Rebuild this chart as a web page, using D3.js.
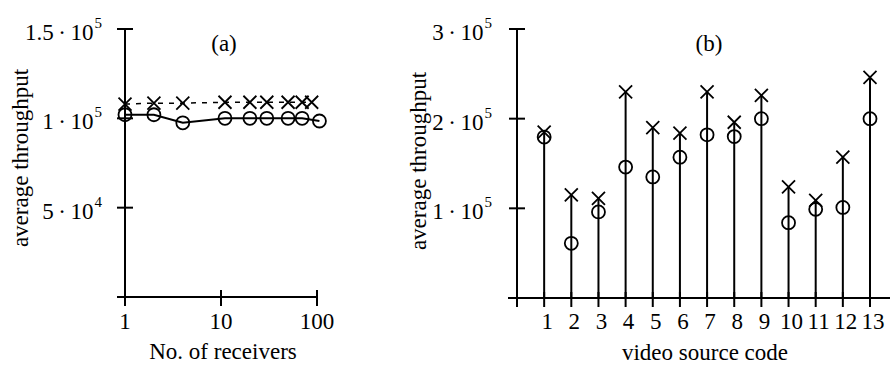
<!DOCTYPE html>
<html>
<head>
<meta charset="utf-8">
<script src="https://cdn.jsdelivr.net/npm/d3@7"></script>
<style>
  body { margin: 0; background: #fff; }
  text { font-family: "Liberation Serif", "Times New Roman", serif; fill: #000; }
</style>
</head>
<body>
<div id="Vis"></div>
<script>
// ---- data (a): throughput vs number of receivers
var receiversO = [1, 2, 4, 11, 20, 30, 50, 70, 106];
var throughputO = [102000, 102000, 97500, 100000, 100000, 100000, 100000, 100000, 98500];
var receiversX = [1, 2, 4, 11, 20, 30, 50, 70, 88];
var throughputX = [108000, 108500, 108500, 109000, 109000, 109000, 109000, 109000, 109000];
var ticksYA = [50000, 100000, 150000];
var ticksXA = [1, 10, 100];

// ---- data (b): throughput per video source
var sources = [1, 2, 3, 4, 5, 6, 7, 8, 9, 10, 11, 12, 13];
var sourceX = [185000, 115000, 111000, 230000, 190000, 184000, 230000, 196000, 226000, 124000, 109000, 157000, 246000];
var sourceO = [179500, 61000, 96000, 146000, 135000, 157000, 182000, 180000, 200000, 84000, 99000, 101000, 200000];
var ticksYB = [100000, 200000, 300000];

var width = 890, height = 366;

var svg = d3.select("#Vis")
  .append("svg")
    .attr("width", width)
    .attr("height", height);

// scales
var xA = d3.scaleLog().domain([1, 100]).range([125, 317]);
var yA = d3.scaleLinear().domain([0, 150000]).range([297, 29]);
var xB = d3.scaleLinear().domain([0, 13]).range([517, 870]);
var yB = d3.scaleLinear().domain([0, 300000]).range([298, 29]);

// "1.5·10^5" style label
function sciLabel(sel) {
  sel.each(function(v) {
    var e = Math.floor(Math.log10(v));
    var m = +(v / Math.pow(10, e)).toFixed(2);
    var t = d3.select(this);
    t.append("tspan").text(m + "\u2009\u00b7\u200910");
    t.append("tspan").attr("dx", 1).attr("dy", -12).attr("font-size", "15px").text(e);
  });
}

// marker helpers
function drawCircles(g, data, x, y) {
  g.selectAll(null).data(data).enter().append("circle")
    .attr("cx", function(d) { return x(d[0]); })
    .attr("cy", function(d) { return y(d[1]); })
    .attr("r", 6.5)
    .attr("fill", "none")
    .attr("stroke", "#000")
    .attr("stroke-width", 1.8);
}
function drawCrosses(g, data, x, y) {
  var s = 6.5;
  g.selectAll(null).data(data).enter().append("path")
    .attr("d", function(d) {
      var cx = x(d[0]), cy = y(d[1]);
      return "M" + (cx - s) + "," + (cy - s) + "L" + (cx + s) + "," + (cy + s) +
             "M" + (cx - s) + "," + (cy + s) + "L" + (cx + s) + "," + (cy - s);
    })
    .attr("stroke", "#000")
    .attr("stroke-width", 1.8)
    .attr("fill", "none");
}

// ================= panel (a)
var gA = svg.append("g");

// axis lines
gA.append("line")
  .attr("x1", xA(1)).attr("x2", xA(1))
  .attr("y1", yA(0) + 8).attr("y2", yA(150000))
  .attr("stroke", "#000").attr("stroke-width", 2);
gA.append("line")
  .attr("x1", xA(1) - 8).attr("x2", xA(100))
  .attr("y1", yA(0)).attr("y2", yA(0))
  .attr("stroke", "#000").attr("stroke-width", 2);

// y ticks
gA.selectAll(".ytick").data(ticksYA).enter().append("line")
  .attr("x1", xA(1) - 8).attr("x2", xA(1) + 8)
  .attr("y1", function(d) { return yA(d); })
  .attr("y2", function(d) { return yA(d); })
  .attr("stroke", "#000").attr("stroke-width", 2);
gA.selectAll(".ylab").data(ticksYA).enter().append("text")
  .attr("x", xA(1) - 23)
  .attr("y", function(d) { return yA(d) + 11; })
  .attr("text-anchor", "end")
  .attr("font-size", "23px")
  .call(sciLabel);

// x ticks
gA.selectAll(".xtick").data(ticksXA).enter().append("line")
  .attr("x1", function(d) { return xA(d); })
  .attr("x2", function(d) { return xA(d); })
  .attr("y1", yA(0) - 7).attr("y2", yA(0) + 9)
  .attr("stroke", "#000").attr("stroke-width", 2);
gA.selectAll(".xlab").data(ticksXA).enter().append("text")
  .attr("x", function(d) { return xA(d); })
  .attr("y", 329)
  .attr("text-anchor", "middle")
  .attr("font-size", "23px")
  .text(function(d) { return d; });

// lines
var ptsO = receiversO.map(function(r, i) { return [r, throughputO[i]]; });
var ptsX = receiversX.map(function(r, i) { return [r, throughputX[i]]; });
var lineA = d3.line()
  .x(function(d) { return xA(d[0]); })
  .y(function(d) { return yA(d[1]); });
gA.append("path").datum(ptsO)
  .attr("d", lineA).attr("fill", "none")
  .attr("stroke", "#000").attr("stroke-width", 2);
gA.append("path").datum(ptsX)
  .attr("d", lineA).attr("fill", "none")
  .attr("stroke", "#000").attr("stroke-width", 1.5)
  .attr("stroke-dasharray", "5,6");
drawCircles(gA, ptsO, xA, yA);
drawCrosses(gA, ptsX, xA, yA);

// labels
gA.append("text")
  .attr("x", 224).attr("y", 51)
  .attr("text-anchor", "middle").attr("font-size", "23px")
  .text("(a)");
gA.append("text")
  .attr("x", 223).attr("y", 359)
  .attr("text-anchor", "middle").attr("font-size", "23px")
  .text("No. of receivers");
gA.append("text")
  .attr("transform", "translate(28,158) rotate(-90)")
  .attr("text-anchor", "middle").attr("font-size", "23px")
  .text("average throughput");

// ================= panel (b)
var gB = svg.append("g");

gB.append("line")
  .attr("x1", xB(0)).attr("x2", xB(0))
  .attr("y1", yB(0) + 9).attr("y2", yB(300000))
  .attr("stroke", "#000").attr("stroke-width", 2);
gB.append("line")
  .attr("x1", xB(0) - 9).attr("x2", 890)
  .attr("y1", yB(0)).attr("y2", yB(0))
  .attr("stroke", "#000").attr("stroke-width", 2);

gB.selectAll(".ytick").data(ticksYB).enter().append("line")
  .attr("x1", xB(0) - 8).attr("x2", xB(0) + 8)
  .attr("y1", function(d) { return yB(d); })
  .attr("y2", function(d) { return yB(d); })
  .attr("stroke", "#000").attr("stroke-width", 2);
gB.selectAll(".ylab").data(ticksYB).enter().append("text")
  .attr("x", xB(0) - 25)
  .attr("y", function(d) { return yB(d) + 11; })
  .attr("text-anchor", "end")
  .attr("font-size", "23px")
  .call(sciLabel);

gB.selectAll(".xtick").data(sources).enter().append("line")
  .attr("x1", function(d) { return xB(d); })
  .attr("x2", function(d) { return xB(d); })
  .attr("y1", yB(0) - 6).attr("y2", yB(0) + 9)
  .attr("stroke", "#000").attr("stroke-width", 2);
gB.selectAll(".xlab").data(sources).enter().append("text")
  .attr("x", function(d) { return xB(d) + 3; })
  .attr("y", 329)
  .attr("text-anchor", "middle")
  .attr("font-size", "23px")
  .text(function(d) { return d; });

// stems up to the higher marker
gB.selectAll(".stem").data(sources).enter().append("line")
  .attr("x1", function(d) { return xB(d); })
  .attr("x2", function(d) { return xB(d); })
  .attr("y1", yB(0))
  .attr("y2", function(d, i) { return yB(Math.max(sourceX[i], sourceO[i])); })
  .attr("stroke", "#000").attr("stroke-width", 2);

drawCircles(gB, sources.map(function(s, i) { return [s, sourceO[i]]; }), xB, yB);
drawCrosses(gB, sources.map(function(s, i) { return [s, sourceX[i]]; }), xB, yB);

gB.append("text")
  .attr("x", 709).attr("y", 51)
  .attr("text-anchor", "middle").attr("font-size", "23px")
  .text("(b)");
gB.append("text")
  .attr("x", 705).attr("y", 360)
  .attr("text-anchor", "middle").attr("font-size", "23px")
  .text("video source code");
gB.append("text")
  .attr("transform", "translate(426,161) rotate(-90)")
  .attr("text-anchor", "middle").attr("font-size", "23px")
  .text("average throughput");
</script>
</body>
</html>
